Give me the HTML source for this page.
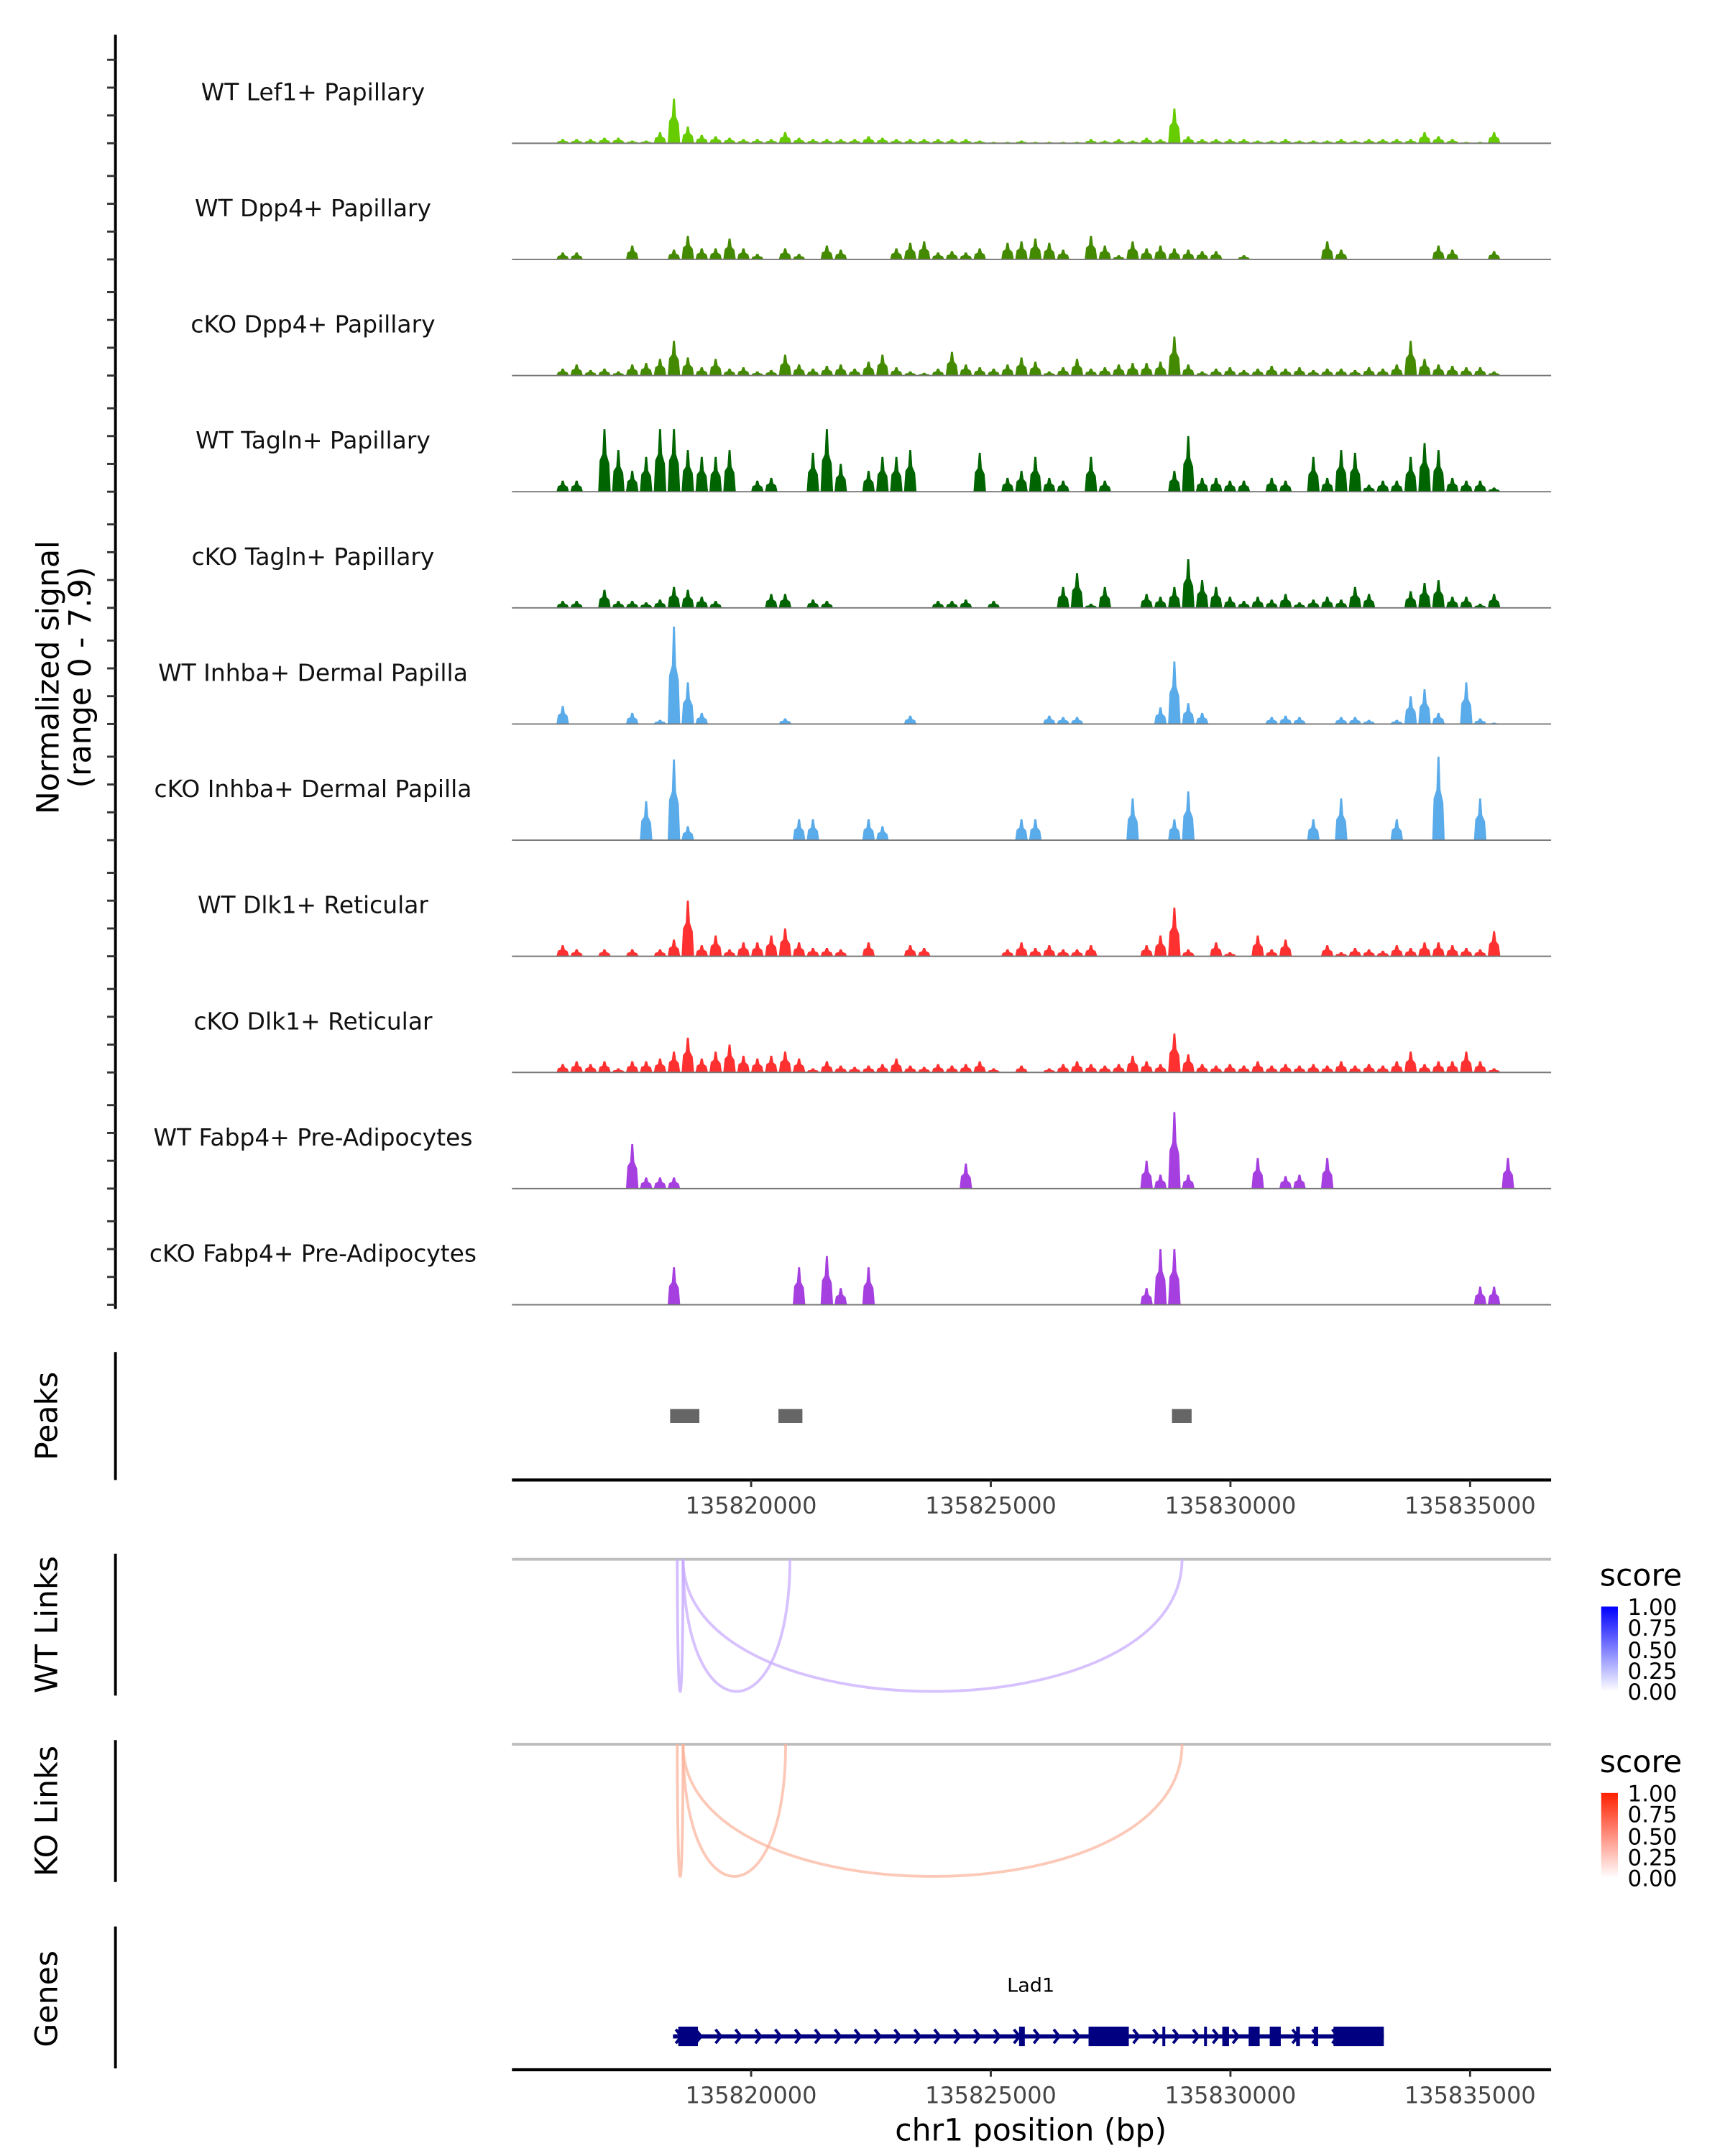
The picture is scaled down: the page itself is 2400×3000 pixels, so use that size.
<!DOCTYPE html>
<html><head><meta charset="utf-8">
<style>
html,body{margin:0;padding:0;background:#fff;}
svg{display:block;font-family:"DejaVu Sans","Liberation Sans",sans-serif;}
</style></head>
<body>
<svg id="chart" width="2400" height="3000" viewBox="0 0 1240 1550" xmlns="http://www.w3.org/2000/svg">
<g id="g-tracks"></g>
<g id="g-axes"></g>
<g id="g-peaks"></g>
<g id="g-links"></g>
<g id="g-genes"></g>
<defs>
<linearGradient id="gradBlue" x1="0" y1="1" x2="0" y2="0"><stop offset="0" stop-color="#ffffff"/><stop offset="1" stop-color="#0000ff"/></linearGradient>
<linearGradient id="gradRed" x1="0" y1="1" x2="0" y2="0"><stop offset="0" stop-color="#ffffff"/><stop offset="1" stop-color="#ff2000"/></linearGradient>
</defs>
<text transform="translate(42,487) rotate(-90)" text-anchor="middle" font-size="22" fill="#000">Normalized signal</text>
<text transform="translate(65,487) rotate(-90)" text-anchor="middle" font-size="22" fill="#000">(range 0 - 7.9)</text>
<text transform="translate(41,1018) rotate(-90)" text-anchor="middle" font-size="22">Peaks</text>
<text transform="translate(41,1168) rotate(-90)" text-anchor="middle" font-size="22">WT Links</text>
<text transform="translate(41,1302) rotate(-90)" text-anchor="middle" font-size="22">KO Links</text>
<text transform="translate(41,1437) rotate(-90)" text-anchor="middle" font-size="22">Genes</text>
<text x="741" y="1539" text-anchor="middle" font-size="22">chr1 position (bp)</text>
<g>
<text x="1150" y="1140" font-size="22">score</text>
<rect x="1151" y="1155" width="12" height="61" fill="url(#gradBlue)"/>
<text x="1170" y="1161" font-size="16">1.00</text><text x="1170" y="1176" font-size="16">0.75</text><text x="1170" y="1192" font-size="16">0.50</text><text x="1170" y="1207" font-size="16">0.25</text><text x="1170" y="1222" font-size="16">0.00</text>
</g>
<g>
<text x="1150" y="1274" font-size="22">score</text>
<rect x="1151" y="1289" width="12" height="61" fill="url(#gradRed)"/>
<text x="1170" y="1295" font-size="16">1.00</text><text x="1170" y="1310" font-size="16">0.75</text><text x="1170" y="1326" font-size="16">0.50</text><text x="1170" y="1341" font-size="16">0.25</text><text x="1170" y="1356" font-size="16">0.00</text>
</g>
</svg>
<script>
const trackNames=["WT Lef1+ Papillary","WT Dpp4+ Papillary","cKO Dpp4+ Papillary","WT Tagln+ Papillary","cKO Tagln+ Papillary","WT Inhba+ Dermal Papilla","cKO Inhba+ Dermal Papilla","WT Dlk1+ Reticular","cKO Dlk1+ Reticular","WT Fabp4+ Pre-Adipocytes","cKO Fabp4+ Pre-Adipocytes"];
const trackColors=["#66cc00","#448a00","#448a00","#006400","#006400","#5aabea","#5aabea","#ff3030","#ff3030","#a63fe0","#a63fe0"];
const binStartBp=135816070;
const binSizeBp=290;
const sigLef1WT=[.3,.3,.3,.4,.4,.2,.2,.8,3.2,1.2,.6,.5,.4,.3,.3,.3,.8,.4,.3,.3,.3,.3,.5,.4,.3,.3,.3,.3,.3,.3,.2,.1,.1,.2,.1,.1,.1,.1,.3,.2,.3,.2,.4,.3,2.5,.5,.3,.3,.3,.3,.2,.2,.3,.2,.2,.2,.3,.2,.3,.3,.3,.3,.8,.5,.3,.1,.1,.8,0];
const sigDpp4WT=[.5,.5,0,0,0,1,0,0,.7,1.7,.8,.8,1.5,.8,.4,0,.8,.4,0,1,.7,0,0,0,.8,1.2,1.3,.5,.6,.5,.8,0,1.2,1.3,1.5,1.2,.7,0,1.7,1,.3,1.3,.8,1,.8,.7,.6,.6,0,.3,0,0,0,0,0,1.3,.7,0,0,0,0,0,0,1,.7,0,0,.6,0];
const sigDpp4KO=[.5,.8,.4,.5,.3,.8,.9,1.2,2.5,1.3,.6,1.2,.5,.6,.3,.4,1.5,.8,.5,.7,.8,.5,1,1.5,.6,.3,.2,.5,1.7,.8,.6,.5,.8,1.3,1,.3,.6,1.2,.5,.6,.8,.9,.9,1,2.8,.8,.3,.5,.6,.4,.5,.7,.5,.6,.4,.5,.5,.4,.6,.5,.8,2.5,1.2,.8,.7,.6,.6,.3,0];
const sigTaglnWT=[.8,.8,0,4.5,3,1.5,2.5,4.5,4.5,3,2.5,2.5,3,0,.8,1,0,0,2.8,4.5,2,0,1.5,2.5,2.5,3,0,0,0,0,2.8,0,1,1.5,2.5,1,.8,0,2.5,.8,0,0,0,0,1.5,4,1,1,.8,.8,0,1,.8,0,2.5,1,3,2.8,.5,.8,.8,2.5,3.5,3,1,.8,.8,.3,0];
const sigTaglnKO=[.5,.5,0,1.3,.5,.5,.4,.6,1.5,1.3,.8,.5,0,0,0,1,1,0,.6,.5,0,0,0,0,0,0,0,.5,.5,.6,0,.5,0,0,0,0,1.5,2.5,.3,1.5,0,0,1,.8,1.5,3.5,2,1.5,.8,.5,.8,.6,1,.4,.6,.8,.6,1.5,1,0,0,1.2,1.8,2,.8,.8,.3,1,0];
const sigInhbaWT=[1.3,0,0,0,0,.8,0,.3,7,3,.8,0,0,0,0,0,.4,0,0,0,0,0,0,0,0,.6,0,0,0,0,0,0,0,0,0,.6,.5,.5,0,0,0,0,0,1.2,4.5,1.5,.8,0,0,0,0,.5,.6,.5,0,0,.5,.5,.3,0,.3,2,2.5,.8,0,3,.4,.1,0];
const sigInhbaKO=[0,0,0,0,0,0,2.8,0,5.8,1,0,0,0,0,0,0,0,1.5,1.5,0,0,0,1.5,1,0,0,0,0,0,0,0,0,0,1.5,1.5,0,0,0,0,0,0,3,0,0,1.5,3.5,0,0,0,0,0,0,0,0,1.5,0,3,0,0,0,1.5,0,0,6,0,0,3,0,0];
const sigDlk1WT=[.8,.5,0,.5,0,.5,0,.5,1.2,4,.8,1.5,.5,1,1,1.5,2,1,.6,.6,.5,0,1,0,0,.8,.6,0,0,0,0,0,.5,1,.6,.8,.5,.5,.8,0,0,0,.8,1.5,3.5,.5,0,1,.3,0,1.5,.5,1.2,0,0,.8,.3,.6,.5,.4,.8,.6,1,1,.8,.6,.5,1.8,0];
const sigDlk1KO=[.6,.8,.6,.8,.3,.8,.8,1,1.5,2.5,1,1.5,2,1.2,1,1.2,1.5,1,.3,.8,.5,.4,.5,.6,1,.5,.4,.6,.5,.6,.8,.3,0,.5,0,.3,.6,.8,.6,.5,.6,1.2,.8,.6,2.8,1.3,.6,.5,.6,.5,.8,.5,.6,.5,.6,.5,.8,.5,.6,.5,.8,1.5,.6,.8,.8,1.5,.8,.3,0];
const sigFabp4WT=[0,0,0,0,0,3.2,.8,.8,.8,0,0,0,0,0,0,0,0,0,0,0,0,0,0,0,0,0,0,0,0,1.8,0,0,0,0,0,0,0,0,0,0,0,0,2,1,5.5,1,0,0,0,0,2.2,0,.9,1,0,2.2,0,0,0,0,0,0,0,0,0,0,0,0,2.2];
const sigFabp4KO=[0,0,0,0,0,0,0,0,2.7,0,0,0,0,0,0,0,0,2.7,0,3.5,1.2,0,2.7,0,0,0,0,0,0,0,0,0,0,0,0,0,0,0,0,0,0,0,1.2,4,4,0,0,0,0,0,0,0,0,0,0,0,0,0,0,0,0,0,0,0,0,0,1.3,1.3,0];
const trackSignals=[sigLef1WT,sigDpp4WT,sigDpp4KO,sigTaglnWT,sigTaglnKO,sigInhbaWT,sigInhbaKO,sigDlk1WT,sigDlk1KO,sigFabp4WT,sigFabp4KO];
const xTickValues=[135820000,135825000,135830000,135835000];
const peakStarts=[135818310,135820570,135828780];
const peakEnds=[135818920,135821070,135829190];
const wtLinkStarts=[135818460,135818580,135818580];
const wtLinkEnds=[135818580,135820810,135828990];
const wtLinkScores=[0.45,0.3,0.3];
const koLinkStarts=[135818460,135818580,135818580];
const koLinkEnds=[135818580,135820720,135828990];
const koLinkScores=[0.4,0.3,0.3];
const geneStart=135818370;
const geneEnd=135833200;
const exonStarts=[135818480,135825590,135827040,135828580,135829450,135829830,135830380,135830820,135831370,135831740,135832150];
const exonEnds=[135818890,135825710,135827880,135828640,135829510,135829970,135830610,135831050,135831450,135831830,135833200];

const NS="http://www.w3.org/2000/svg";
const X0=368,X1=1115,D0=135815010,D1=135836690;
function xScale(bp){return X0+(bp-D0)/(D1-D0)*(X1-X0);}
const trackBase0=103,trackStep=83.5,pxPerUnit=10;
function yScale(t,v){return trackBase0+t*trackStep-v*pxPerUnit;}
function mk(tag,attrs,parent){const e=document.createElementNS(NS,tag);for(const k in attrs)e.setAttribute(k,attrs[k]);parent.appendChild(e);return e;}

const gT=document.getElementById('g-tracks');
trackSignals.forEach((sig,t)=>{
  const g=mk('g',{},gT);
  
  
  const base=yScale(t,0);
  let d='';
  sig.forEach((v,i)=>{
    if(v<=0)return;
    const s=binStartBp+i*binSizeBp;
    const xa=xScale(s-binSizeBp*0.45),xb=xScale(s+binSizeBp*0.45),xm=xScale(s);
    const yt=yScale(t,v);
    d+=`M${xa},${base}L${xa+1},${base-(base-yt)*0.5}L${xm-1.5},${base-(base-yt)*0.6}L${xm-0.7},${yt}L${xm+0.7},${yt}L${xm+1.5},${base-(base-yt)*0.6}L${xb-1},${base-(base-yt)*0.45}L${xb},${base}Z`;
  });
  const p=mk('path',{d:d,fill:trackColors[t]},g);
  
  
  const bl=mk('line',{x1:X0,x2:X1,y1:base,y2:base,stroke:'#777','stroke-width':1},g);
  
  
  const lb=mk('text',{x:225,y:base-31,'text-anchor':'middle','font-size':17,fill:'#111'},g);
  lb.textContent=trackNames[t];
  
  
});

const gA=document.getElementById('g-axes');
function vline(y1,y2,name){const l=mk('line',{x1:83,x2:83,y1:y1,y2:y2,stroke:'#000','stroke-width':2},gA);}
vline(25,941,'signal-y-axis');vline(972,1064,'peaks-y-axis');vline(1117,1219,'wt-links-y-axis');vline(1251,1353,'ko-links-y-axis');vline(1385,1487,'genes-y-axis');
for(let t=0;t<11;t++){for(let k=0;k<4;k++){const y=yScale(t,k*2);const l=mk('line',{x1:77,x2:83,y1:y,y2:y,stroke:'#333','stroke-width':1.5},gA);}}
function xaxis(y,name){
  const g=mk('g',{},gA);
  mk('line',{x1:X0,x2:X1,y1:y,y2:y,stroke:'#000','stroke-width':2.2},g);
  xTickValues.forEach(v=>{const x=xScale(v);
    const tk=mk('line',{x1:x,x2:x,y1:y,y2:y+5,stroke:'#333','stroke-width':1.5},g);
    
    const tx=mk('text',{x:x,y:y+24,'text-anchor':'middle','font-size':16.5,fill:'#444'},g);tx.textContent=v;
    });
}
xaxis(1064,'peaks-x-axis');xaxis(1488,'genes-x-axis');

const gP=document.getElementById('g-peaks');
peakStarts.forEach((s,i)=>{const r=mk('rect',{x:xScale(s),y:1013,width:xScale(peakEnds[i])-xScale(s),height:10,fill:'#666'},gP);
  
  });

const gL=document.getElementById('g-links');
function links(top,starts,ends,scores,col,name){
  const g=mk('g',{},gL);
  const tl=mk('line',{x1:X0,x2:X1,y1:top,y2:top,stroke:'#bdbdbd','stroke-width':2},g);
  
  starts.forEach((s,i)=>{const a=xScale(s),b=xScale(ends[i]);const c=top+95/0.75;
    const p=mk('path',{d:`M${a},${top}C${a},${c} ${b},${c} ${b},${top}`,fill:'none',stroke:col,'stroke-width':2,'stroke-opacity':0.6+scores[i]*0.4},g);
    });
}
links(1121,wtLinkStarts,wtLinkEnds,wtLinkScores,'#c7aaff','wt-links');
links(1254,koLinkStarts,koLinkEnds,koLinkScores,'#fbb49c','ko-links');

const gG=document.getElementById('g-genes');
const gy=1464;
const gl=mk('line',{x1:xScale(geneStart),x2:xScale(geneEnd),y1:gy,y2:gy,stroke:'#000080','stroke-width':3},gG);

let ad='';for(let x=xScale(geneStart)+2;x<xScale(geneEnd)-4;x+=14.3){ad+=`M${x},${gy-5}L${x+4},${gy}L${x},${gy+5}`;}
const ar=mk('path',{d:ad,fill:'none',stroke:'#000080','stroke-width':2},gG);

exonStarts.forEach((s,i)=>{const r=mk('rect',{x:xScale(s),y:gy-7,width:Math.max(2,xScale(exonEnds[i])-xScale(s)),height:14,fill:'#000080'},gG);
  });
const gn=mk('text',{x:741,y:1432,'text-anchor':'middle','font-size':14},gG);gn.textContent='Lad1';

</script>
</body></html>
